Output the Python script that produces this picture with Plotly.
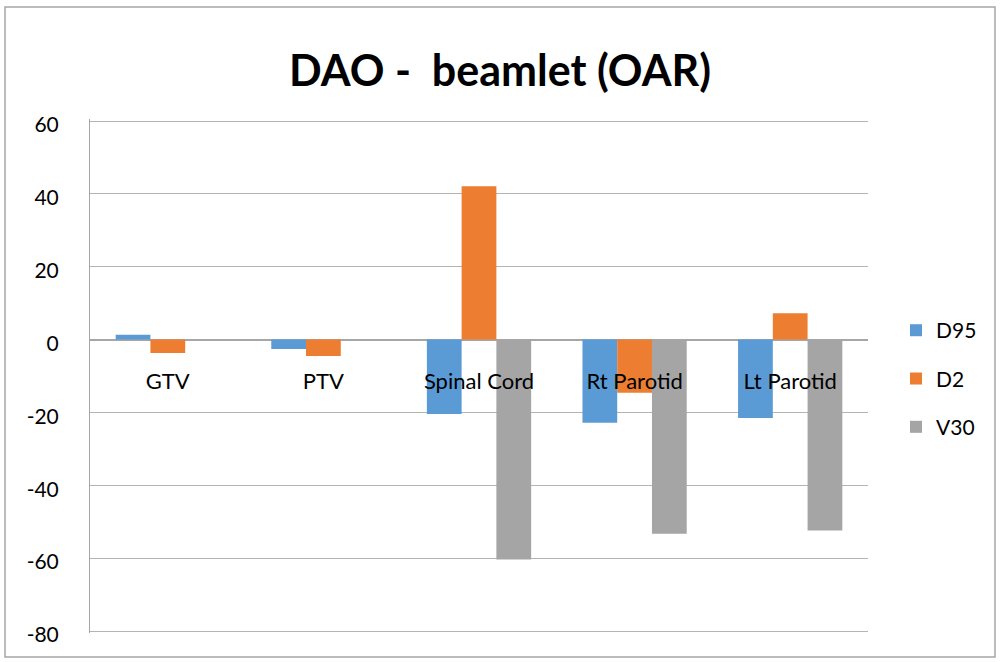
import plotly.graph_objects as go

categories = ["GTV", "PTV", "Spinal Cord", "Rt Parotid", "Lt Parotid"]
d95 = [1.3, -2.6, -20.4, -22.8, -21.5]
d2 = [-3.7, -4.5, 42.1, -14.6, 7.2]
v30 = [None, None, -60.4, -53.3, -52.4]
yticks = [60, 40, 20, 0, -20, -40, -60, -80]
yticklabels = ["60", "40", "20", "0", "-20", "-40", "-60", "-80"]

FONT = "Lato"
ymin, ymax = -80.55, 60.55

fig = go.Figure()
for name, vals, col in [("D95", d95, "#5B9BD5"), ("D2", d2, "#ED7D31"), ("V30", v30, "#A5A5A5")]:
    fig.add_trace(go.Bar(x=categories, y=vals, name=name, marker=dict(color=col, line=dict(width=0)),
                         legendgroup=name))

zero_pos = (0 - ymin) / (ymax - ymin)

fig.update_layout(
    template="none",
    width=1000, height=662,
    paper_bgcolor="white", plot_bgcolor="white",
    margin=dict(l=90, r=132, t=119, b=29, autoexpand=False),
    barmode="group", bargap=0.33, bargroupgap=0,
    title=dict(text="<b>DAO -\u00a0 beamlet (OAR)</b>", x=0.5, xanchor="center", y=0.893, yanchor="middle",
               font=dict(family=FONT, size=43, color="black")),
    font=dict(family=FONT, size=20, color="black"),
    showlegend=True,
    legend=dict(x=1.036, xanchor="left", y=0.495, yanchor="middle", tracegroupgap=18,
                font=dict(family=FONT, size=21, color="black"), bgcolor="rgba(0,0,0,0)",
                itemwidth=30),
    xaxis=dict(anchor="free", position=zero_pos, showline=False, showgrid=False, ticks="",
               automargin=False, ticklabelstandoff=26,
               tickfont=dict(family=FONT, size=22, color="black"), zeroline=False),
    yaxis=dict(range=[ymin, ymax], tickvals=yticks, ticktext=yticklabels, automargin=False,
               showgrid=True, gridcolor="#b4b4b4", gridwidth=1,
               zeroline=True, zerolinecolor="#a6a6a6", zerolinewidth=1.5,
               showline=True, linecolor="#a6a6a6", linewidth=1, ticks="", ticklabelstandoff=26,
               ticklabelshift=4,
               tickfont=dict(family=FONT, size=21, color="black")),
    shapes=[dict(type="rect", xref="paper", yref="paper",
                 x0=(5 - 90) / 778, x1=(995 - 90) / 778, y0=(633 - 657) / 514, y1=(633 - 7) / 514,
                 line=dict(color="#a6a6a6", width=1.5), fillcolor="rgba(0,0,0,0)", layer="below")],
)

fig.write_html("out.html", config={"displayModeBar": False},
               post_script="document.body.style.margin='0';document.body.style.padding='0';")
